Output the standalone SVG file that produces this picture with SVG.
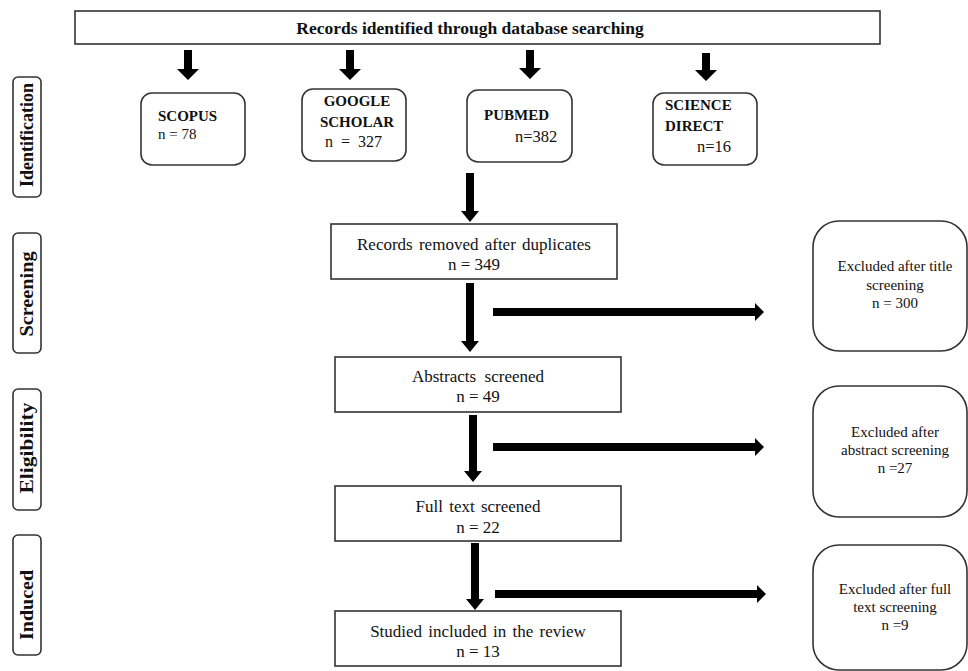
<svg xmlns="http://www.w3.org/2000/svg" width="968" height="671" viewBox="0 0 968 671">
<style>
.box{fill:#fff;stroke:#333;stroke-width:1.6}
.t{font-family:"Liberation Serif","Times New Roman",serif;fill:#111}
.b{font-weight:bold}
.arr{fill:#000}
</style>
<rect width="968" height="671" fill="#fff"/>
<g id="stage-identification">
<rect class="box" x="13" y="77" width="28" height="120" rx="5"/>
<text class="t b" font-size="18" text-anchor="middle" transform="translate(33,135) rotate(-90)" textLength="104" lengthAdjust="spacingAndGlyphs">Identification</text>
</g>
<g id="stage-screening">
<rect class="box" x="13" y="233" width="28" height="120" rx="5"/>
<text class="t b" font-size="18" text-anchor="middle" transform="translate(33,294) rotate(-90)" textLength="85" lengthAdjust="spacingAndGlyphs">Screening</text>
</g>
<g id="stage-eligibility">
<rect class="box" x="13" y="389" width="28" height="121" rx="5"/>
<text class="t b" font-size="18" text-anchor="middle" transform="translate(33,448) rotate(-90)" textLength="91" lengthAdjust="spacingAndGlyphs">Eligibility</text>
</g>
<g id="stage-induced">
<rect class="box" x="13" y="535" width="28" height="120" rx="5"/>
<text class="t b" font-size="18" text-anchor="middle" transform="translate(33,605) rotate(-90)" textLength="70" lengthAdjust="spacingAndGlyphs">Induced</text>
</g>
<g id="records-identified">
<rect class="box" x="75" y="11" width="805" height="33"/>
<text class="t b" font-size="17.5" x="470" y="34" text-anchor="middle">Records identified through database searching</text>
</g>
<g id="scopus">
<rect class="box" x="141" y="93" width="104" height="72" rx="11"/>
<text class="t b" font-size="15" x="158" y="121">SCOPUS</text>
<text class="t" font-size="15" x="158" y="139">n = 78</text>
</g>
<g id="google-scholar">
<rect class="box" x="302" y="89" width="104" height="72" rx="11"/>
<text class="t b" font-size="15" x="357" y="106" text-anchor="middle">GOOGLE</text>
<text class="t b" font-size="15" x="357" y="127" text-anchor="middle">SCHOLAR</text>
<text class="t" font-size="16" x="325" y="147" xml:space="preserve">n  =  327</text>
</g>
<g id="pubmed">
<rect class="box" x="467" y="90" width="105" height="72" rx="11"/>
<text class="t b" font-size="15" x="484" y="120">PUBMED</text>
<text class="t" font-size="16.5" x="515" y="142">n=382</text>
</g>
<g id="science-direct">
<rect class="box" x="653" y="93" width="104" height="72" rx="11"/>
<text class="t b" font-size="15" x="665" y="110">SCIENCE</text>
<text class="t b" font-size="15" x="665" y="131">DIRECT</text>
<text class="t" font-size="16.5" x="697" y="152">n=16</text>
</g>
<g id="records-removed">
<rect class="box" x="331" y="224" width="286" height="55"/>
<text class="t" font-size="17" x="474" y="250" text-anchor="middle" word-spacing="2">Records removed after duplicates</text>
<text class="t" font-size="17" x="474" y="270" text-anchor="middle">n = 349</text>
</g>
<g id="abstracts-screened">
<rect class="box" x="335" y="357" width="286" height="55"/>
<text class="t" font-size="17" x="478" y="382" text-anchor="middle" xml:space="preserve">Abstracts  screened</text>
<text class="t" font-size="17" x="478" y="402" text-anchor="middle">n = 49</text>
</g>
<g id="full-text-screened">
<rect class="box" x="335" y="486" width="286" height="55"/>
<text class="t" font-size="17" x="478" y="512" text-anchor="middle" word-spacing="2">Full text screened</text>
<text class="t" font-size="17" x="478" y="533" text-anchor="middle">n = 22</text>
</g>
<g id="studies-included">
<rect class="box" x="335" y="611" width="286" height="55"/>
<text class="t" font-size="17" x="478" y="637" text-anchor="middle" word-spacing="2">Studied included in the review</text>
<text class="t" font-size="17" x="478" y="657" text-anchor="middle">n = 13</text>
</g>
<g id="excluded-title">
<rect class="box" x="813" y="221" width="154" height="130" rx="26"/>
<text class="t" font-size="15" x="895" y="271" text-anchor="middle">Excluded after title</text>
<text class="t" font-size="15" x="895" y="290" text-anchor="middle">screening</text>
<text class="t" font-size="15" x="895" y="308" text-anchor="middle">n = 300</text>
</g>
<g id="excluded-abstract">
<rect class="box" x="813" y="386" width="154" height="131" rx="26"/>
<text class="t" font-size="15" x="895" y="437" text-anchor="middle">Excluded after</text>
<text class="t" font-size="15" x="895" y="455" text-anchor="middle">abstract screening</text>
<text class="t" font-size="15" x="895" y="473" text-anchor="middle">n =27</text>
</g>
<g id="excluded-fulltext">
<rect class="box" x="813" y="545" width="154" height="125" rx="26"/>
<text class="t" font-size="15" x="895" y="594" text-anchor="middle">Excluded after full</text>
<text class="t" font-size="15" x="895" y="612" text-anchor="middle">text screening</text>
<text class="t" font-size="15" x="895" y="630" text-anchor="middle">n =9</text>
</g>
<g id="connectors">
<path class="arr" d="M184,50H192V69H199L188,80L177,69H184Z"/>
<path class="arr" d="M346,50H354V69H361L350,80L339,69H346Z"/>
<path class="arr" d="M526,50H534V68H541L530,79L519,68H526Z"/>
<path class="arr" d="M702,53H710V70H717L706,81L695,70H702Z"/>
<path class="arr" d="M466,173H474V211H479L470,222L461,211H466Z"/>
<path class="arr" d="M466,283H474V341H479L470,352L461,341H466Z"/>
<path class="arr" d="M469,415H477V471H482L473,482L464,471H469Z"/>
<path class="arr" d="M471,543H479V599H484L475,610L466,599H471Z"/>
<path class="arr" d="M493,308H755V303L764,312L755,321V316H493Z"/>
<path class="arr" d="M493,443H755V438L764,447L755,456V451H493Z"/>
<path class="arr" d="M495,590H757V585L766,594L757,603V598H495Z"/>
</g>
</svg>
